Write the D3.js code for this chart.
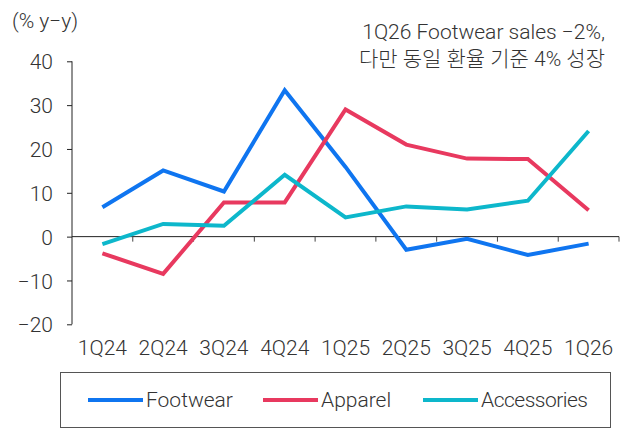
<!DOCTYPE html>
<html><head><meta charset="utf-8">
<script src="https://cdn.jsdelivr.net/npm/d3@7/dist/d3.min.js"></script>
<style>
body{margin:0;background:#fff;}
text{font-family:Roboto,"Noto Sans CJK KR",sans-serif;fill:#333;font-weight:300;}
</style></head>
<body><svg id="c" width="632" height="431"></svg>
<script>
const categories=["1Q24","2Q24","3Q24","4Q24","1Q25","2Q25","3Q25","4Q25","1Q26"];
const footwear=[6.7,15.1,10.3,33.4,15.9,-3.0,-0.5,-4.2,-1.6];
const apparel=[-3.8,-8.5,7.8,7.8,29.0,21.0,17.8,17.7,6.0];
const accessories=[-1.7,2.9,2.5,14.1,4.4,6.9,6.2,8.2,24.1];
const yTicks=[-20,-10,0,10,20,30,40];
const seriesNames=["Footwear","Apparel","Accessories"];
const seriesColors=["#0F75F0","#E8395F","#0DB7CB"];
const yUnit="(% y\u2212y)";
const noteLines=["1Q26 Footwear sales \u22122%,","다만 동일 환율 기준 4% 성장"];

const svg=d3.select("#c");
const x=d3.scaleBand().domain(categories).range([72,619]).padding(0);
const y=d3.scaleLinear().domain([-20,40]).range([324.3,61.3]);
const fs=21;

// y axis
const ya=svg.append("g").attr("transform","translate(72,0)")
 .call(d3.axisLeft(y).tickValues(yTicks).tickSize(5).tickPadding(14).tickFormat(d=>d<0?"\u2212"+Math.abs(d):d));
ya.select(".domain").attr("stroke","#222").attr("d","M0,"+y(40)+"V"+y(-20));
ya.selectAll(".tick line").attr("stroke","#222");
ya.selectAll("text").attr("font-size",fs).attr("font-family",null).attr("fill","#333").attr("dy","0.36em");

// zero axis
const xa=svg.append("g").attr("transform","translate(0,"+y(0)+")")
 .call(d3.axisBottom(x).tickSize(0).tickFormat(""));
xa.select(".domain").attr("stroke","#222").attr("d","M72,0H619");
xa.selectAll(".tick").remove();
const bounds=categories.map(c=>x(c)+x.bandwidth());
xa.selectAll("line.b").data(bounds).enter().append("line").attr("class","b")
 .attr("x1",d=>d).attr("x2",d=>d).attr("y1",0).attr("y2",5).attr("stroke","#444");

// category labels
svg.append("g").selectAll("text").data(categories).enter().append("text")
 .attr("x",d=>x(d)+x.bandwidth()/2).attr("y",355).attr("text-anchor","middle")
 .attr("font-size",fs).text(d=>d);

// lines
const data=[footwear,apparel,accessories];
const line=d3.line().x((d,i)=>x(categories[i])+x.bandwidth()/2).y(d=>y(d));
svg.append("g").selectAll("path").data(data).enter().append("path")
 .attr("d",line).attr("fill","none").attr("stroke",(d,i)=>seriesColors[i])
 .attr("stroke-width",4).attr("stroke-linejoin","miter");

// unit label
svg.append("text").attr("x",12).attr("y",28).attr("font-size",fs).text(yUnit);
// note
noteLines.forEach((t,i)=>svg.append("text").attr("x",605).attr("y",[39,66][i])
 .attr("text-anchor","end").attr("font-size",fs).text(t));

// legend
svg.append("rect").attr("x",60.5).attr("y",372.5).attr("width",550).attr("height",55)
 .attr("fill","none").attr("stroke","#555");
const lx=[88,263,423];
const lg=svg.append("g").selectAll("g").data(seriesNames).enter().append("g");
lg.append("line").attr("x1",(d,i)=>lx[i]).attr("x2",(d,i)=>lx[i]+55).attr("y1",400).attr("y2",400)
 .attr("stroke",(d,i)=>seriesColors[i]).attr("stroke-width",4);
lg.append("text").attr("x",(d,i)=>lx[i]+58).attr("y",407).attr("font-size",fs)
 .attr("letter-spacing",(d,i)=>i===2?"-0.5px":null).text(d=>d);
</script></body></html>
